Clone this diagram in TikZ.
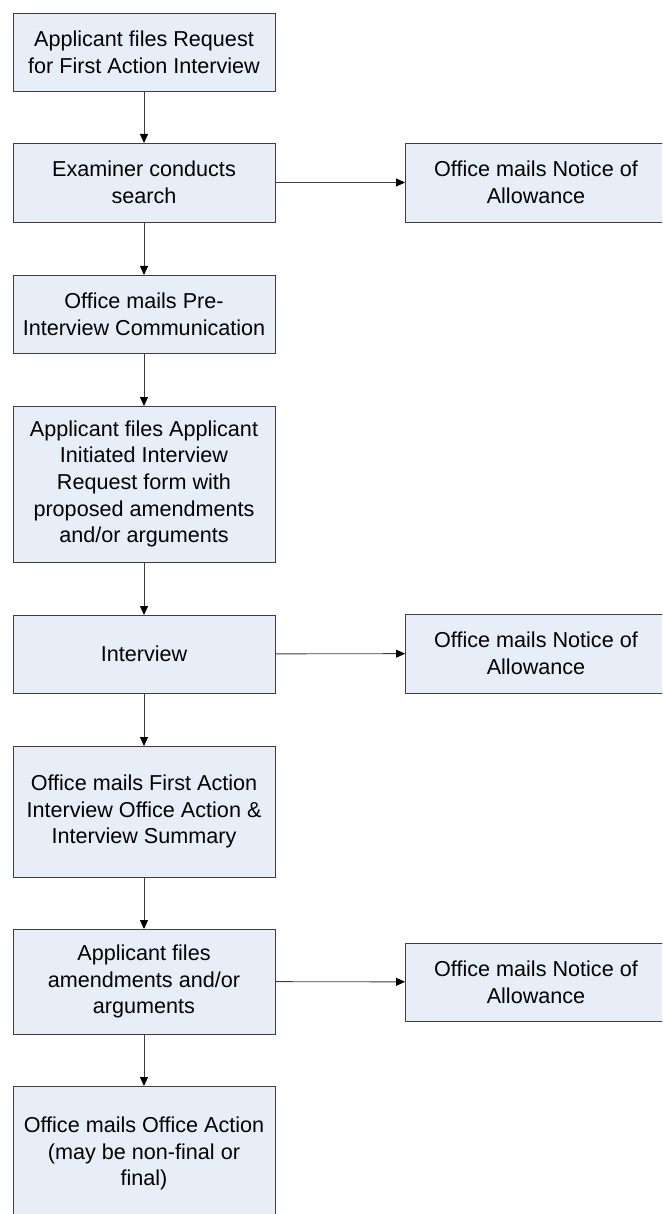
\documentclass[tikz,border=0pt]{standalone}
\usepackage{fontspec}
\setmainfont{Liberation Sans}
\usetikzlibrary{arrows.meta}
\definecolor{boxfill}{RGB}{232,238,247}
\definecolor{boxline}{RGB}{62,62,62}

\begin{document}
\begin{tikzpicture}[x=1pt, y=-1pt, font=\fontsize{21.6}{26.7}\selectfont, line width=0.9pt,
  stepbox/.style={draw=boxline, fill=boxfill, align=center, inner sep=0pt, outer sep=0pt, minimum width=262pt},
  flow/.style={draw=boxline, -{Triangle[length=9pt, width=8pt, color=black]}}]
  \clip (0,0) rectangle (662,1214);
  % main column
  \node[stepbox, minimum height=78pt] (request) at (144,52) {Applicant files Request\\for First Action Interview};
  \node[stepbox, minimum height=79pt] (search) at (144,182.5) {Examiner conducts\\search};
  \node[stepbox, minimum height=78pt] (preint) at (144,314) {Office mails Pre-\\Interview Communication};
  \node[stepbox, minimum height=156pt] (aiir) at (144,484) {Applicant files Applicant\\Initiated Interview\\Request form with\\proposed amendments\\and/or arguments};
  \node[stepbox, minimum height=78pt] (interview) at (144,654) {Interview};
  \node[stepbox, minimum height=131pt] (faioa) at (144,811.5) {Office mails First Action\\Interview Office Action \&\\Interview Summary};
  \node[stepbox, minimum height=105pt] (amend) at (144,981.5) {Applicant files\\amendments and/or\\arguments};
  \node[stepbox, minimum height=135pt] (action) at (144,1153.5) {Office mails Office Action\\(may be non-final or\\final)};
  % allowance column
  \node[stepbox, minimum height=79pt] (allowA) at (536,182.5) {Office mails Notice of\\Allowance};
  \node[stepbox, minimum height=79pt] (allowB) at (536,653.5) {Office mails Notice of\\Allowance};
  \node[stepbox, minimum height=78pt] (allowC) at (536,982) {Office mails Notice of\\Allowance};
  % connectors
  \draw[flow] (request) -- (search);
  \draw[flow] (search) -- (preint);
  \draw[flow] (preint) -- (aiir);
  \draw[flow] (aiir) -- (interview);
  \draw[flow] (interview) -- (faioa);
  \draw[flow] (faioa) -- (amend);
  \draw[flow] (amend) -- (action);
  \draw[flow] (search) -- (allowA);
  \draw[flow] (interview) -- (allowB);
  \draw[flow] (amend) -- (allowC);
\end{tikzpicture}
\end{document}
